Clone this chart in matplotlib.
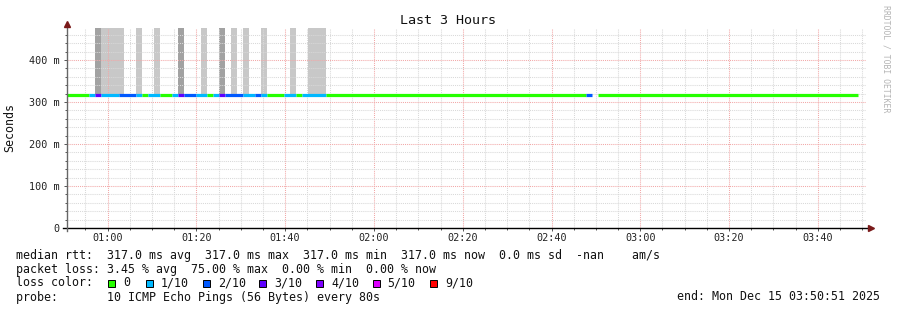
import datetime as dt
import matplotlib
matplotlib.use("Agg")
import matplotlib.pyplot as plt
import matplotlib.dates as mdates
import matplotlib.ticker as mticker
from matplotlib.patches import Rectangle

# --- data ----------------------------------------------------------------
t_end = dt.datetime(2025, 12, 15, 3, 50, 51)
t_start = t_end - dt.timedelta(hours=3)
step = 80          # rrd step, seconds
first_edge = 57    # seconds after t_start where an rrd step boundary falls

median_rtt = 0.317  # seconds

# runs of the median line: step edges (k -> first_edge + k*step) and loss count /10
run_edges = [-1, 3, 4, 5, 8, 11, 12, 13, 15, 17, 18, 19, 21, 23, 24, 25, 26,
             29, 31, 32, 33, 36, 38, 39, 43, 87, 88, 89, 133]
run_loss = [0, 1, 3, 1, 2, 1, 0, 1, 0, 1, 3, 2, 1, 0, 1, 3, 2,
            1, 2, 1, 0, 1, 0, 1, 0, 2, None, 0]

# smoke columns above the median (start edge, end edge, shade)
smoke_start = [4, 5, 11, 14, 18, 22, 25, 27, 29, 32, 37, 40]
smoke_end = [5, 9, 12, 15, 19, 23, 26, 28, 30, 33, 38, 43]
smoke_dark = [True, False, False, False, True, False, True, False, False, False, False, False]

loss_labels = ["0", "1/10", "2/10", "3/10", "4/10", "5/10", "9/10"]
loss_keys = [0, 1, 2, 3, 4, 5, 9]
loss_colors = ["#26ff00", "#00b8ff", "#0059ff", "#5e00ff", "#7e00ff", "#dd00ff", "#ff0000"]
color_of = dict(zip(loss_keys, loss_colors))

legend_rows = [
    "median rtt:  317.0 ms avg  317.0 ms max  317.0 ms min  317.0 ms now  0.0 ms sd  -nan    am/s",
    "packet loss: 3.45 % avg  75.00 % max  0.00 % min  0.00 % now",
    "loss color:",
    "probe:       10 ICMP Echo Pings (56 Bytes) every 80s",
]
end_text = "end: Mon Dec 15 03:50:51 2025"

y_top = 0.4762
# --------------------------------------------------------------------------

W, H = 897, 310
MONO = "DejaVu Sans Mono"


def edge(k):
    t = t_start + dt.timedelta(seconds=first_edge + step * k)
    t = min(max(t, t_start), t_end)
    return mdates.date2num(t)


fig = plt.figure(figsize=(W / 100, H / 100), dpi=100)
fig.patch.set_facecolor("white")
ax = fig.add_axes([67 / W, (H - 228) / H, (866 - 67) / W, 200 / H])
ax.set_xlim(mdates.date2num(t_start), mdates.date2num(t_end))
ax.set_ylim(0, y_top)
for s in ax.spines.values():
    s.set_visible(False)

# smoke (under the grid)
for a, b, dark in zip(smoke_start, smoke_end, smoke_dark):
    x0, x1 = edge(a), edge(b)
    ax.bar(x0, y_top - median_rtt, width=x1 - x0, bottom=median_rtt, align="edge",
           color="#a2a2a2" if dark else "#c8c8c8", linewidth=0, zorder=0.3)

# median line coloured by loss (over the grid)
for i, loss in enumerate(run_loss):
    if loss is None:
        continue
    ax.hlines(median_rtt, edge(run_edges[i]), edge(run_edges[i + 1]),
              colors=color_of[loss], linewidth=2.3, capstyle="butt", zorder=4)

# grid
ax.xaxis.set_major_locator(mdates.MinuteLocator(byminute=[0, 20, 40]))
ax.xaxis.set_minor_locator(mdates.MinuteLocator(byminute=[5, 10, 15, 25, 30, 35, 45, 50, 55]))
ax.xaxis.set_major_formatter(mdates.DateFormatter("%H:%M"))
ax.yaxis.set_major_locator(mticker.MultipleLocator(0.1))
ax.yaxis.set_minor_locator(mticker.FixedLocator(
    [v / 100 for v in range(2, 48, 2) if v % 10 != 0]))
ax.yaxis.set_major_formatter(mticker.FuncFormatter(
    lambda v, p: "0" if abs(v) < 1e-9 else "%d m" % round(v * 1000)))

ax.set_axisbelow(True)
ax.grid(which="minor", color="#d9d9d9", linestyle=(0, (1, 1)), linewidth=0.75)
ax.grid(which="major", color="#f2a8a8", linestyle=(0, (1, 1)), linewidth=0.75)

ax.tick_params(which="both", direction="out", color="#555555", width=0.7,
               labelsize=7.3, labelcolor="#222222")
ax.tick_params(which="major", length=2.5)
ax.tick_params(which="minor", length=1.5)
ax.tick_params(axis="x", pad=0.8)
ax.tick_params(axis="y", pad=3.0)
for lab in ax.get_xticklabels() + ax.get_yticklabels():
    lab.set_fontfamily(MONO)

# axes with arrows
ax.plot([-4 / 799, 1 + 4 / 799], [0, 0], transform=ax.transAxes, color="black",
        linewidth=1.0, clip_on=False, zorder=5)
ax.plot([0, 0], [-3 / 200, 1 + 3 / 200], transform=ax.transAxes, color="#666666",
        linewidth=1.0, clip_on=False, zorder=5)
ax.plot([0], [1.0225], transform=ax.transAxes, marker="^", markersize=4.5,
        color="#7a1a1a", clip_on=False, zorder=6)
ax.plot([1.0063], [0], transform=ax.transAxes, marker=">", markersize=4.5,
        color="#7a1a1a", clip_on=False, zorder=6)


def px(x, y):
    return x / W, 1 - y / H


fig.text(*px(448, 24), "Last 3 Hours", ha="center", va="baseline",
         fontsize=9.6, family=MONO, color="#111111")
fig.text(*px(10, 127), "Seconds", ha="center", va="center", rotation=90,
         fontsize=8.4, family=MONO, color="#111111")
fig.text(*px(886, 5), "RRDTOOL / TOBI OETIKER", ha="center", va="top", rotation=270,
         fontsize=5.9, family=MONO, color="#b4b4b4")

baselines = [258.5, 272.5, 286.5, 300.5]
for row, yb in zip(legend_rows, baselines):
    fig.text(*px(16, yb), row, ha="left", va="baseline", fontsize=8.4,
             family=MONO, color="#111111")
fig.text(*px(880, baselines[3]), end_text, ha="right", va="baseline",
         fontsize=8.4, family=MONO, color="#111111")

box_x = [108.3, 146, 202.7, 259.3, 316, 372.7, 430]
for bx, lab, col in zip(box_x, loss_labels, loss_colors):
    fig.add_artist(Rectangle(px(bx, 286.5), 7 / W, 7 / H, transform=fig.transFigure,
                             facecolor=col, edgecolor="black", linewidth=0.7))
    fig.text(*px(bx + 15, baselines[2]), lab, ha="left", va="baseline",
             fontsize=8.4, family=MONO, color="#111111")

fig.savefig("out.png", dpi=100, facecolor="white")
